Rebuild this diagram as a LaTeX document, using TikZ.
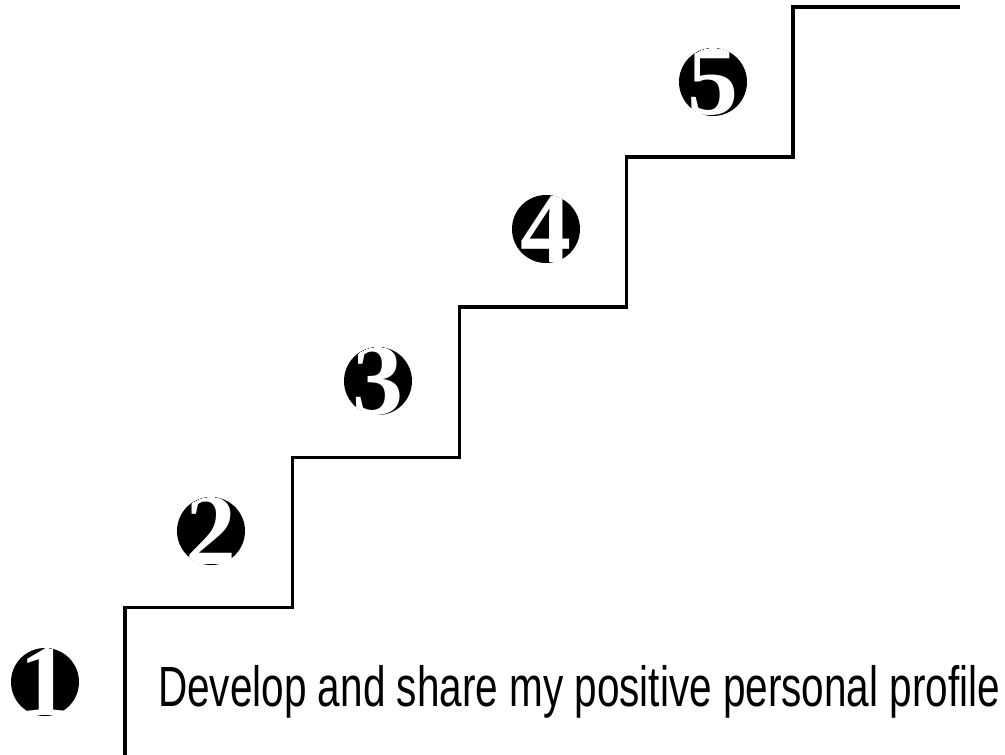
\documentclass[tikz,border=0pt]{standalone}
\usepackage{fontspec}
\setmainfont{Liberation Sans}
\newfontfamily\digitfont{Liberation Serif}[BoldFont={* Bold}]
\begin{document}
\begin{tikzpicture}[x=1pt,y=-1pt,
  stair/.style={line width=3.6pt, line join=miter, line cap=butt},
  badge/.style={circle, fill=black, minimum size=68pt, inner sep=0pt,
    path picture={\node[white, inner sep=0pt, font=\digitfont\bfseries\fontsize{102}{102}\selectfont]
      at (path picture bounding box.center) {#1};}},
  caption/.style={anchor=base west, inner sep=0pt}]
\useasboundingbox (0,0) rectangle (1005,755);
\draw[stair] (125,757) -- (125,607.5) -- (292.5,607.5) -- (292.5,457.5) -- (459.5,457.5)
  -- (459.5,307) -- (626.5,307) -- (626.5,157) -- (793,157) -- (793,7) -- (960,7);
\node[badge=1] (n1) at (45,682) {};
\node[badge=2] (n2) at (211,531) {};
\node[badge=3] (n3) at (378,381) {};
\node[badge=4] (n4) at (546,229) {};
\node[badge=5] (n5) at (713,82) {};
\node[caption] (label) at (158,706) {\scalebox{1}[1.4]{\fontsize{40.5}{48}\selectfont Develop and share my positive personal profile}};
\end{tikzpicture}
\end{document}
